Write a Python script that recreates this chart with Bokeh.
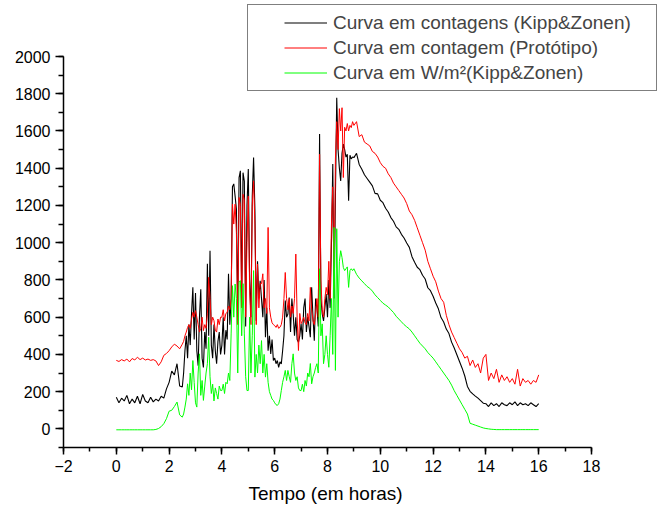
import numpy as np
from bokeh.plotting import figure
from bokeh.models import Legend, LegendItem, SingleIntervalTicker, Range1d, Title
from bokeh.embed import file_html
from bokeh.resources import INLINE

# time axis (hours): 0.1 h steps, 0.05 h in the busy midday part
hours = np.round(np.concatenate([
    np.arange(25) * 0.1,            # 0.0 .. 2.4
    2.5 + np.arange(130) * 0.05,    # 2.5 .. 8.95
    9.0 + np.arange(71) * 0.1,      # 9.0 .. 16.0
]), 3)

kipp_counts = [
    170, 140, 165, 150, 180, 135, 160, 140, 175, 135, 185, 150, 140, 170, 145,
    160, 150, 175, 165, 215, 250, 310, 290, 350, 230,
    # 2.5 - 8.95
    225, 300, 420, 500, 380, 560, 450, 620, 760, 480,
    730, 420, 340, 600, 750, 380, 330, 520, 430, 887,
    500, 957, 450, 380, 560, 420, 350, 470, 520, 400,
    450, 600, 400, 530, 480, 833, 560, 700, 1300, 1316,
    1250, 1180, 600, 1350, 1386, 700, 1376, 1330, 550, 1200,
    1396, 800, 600, 1250, 1457, 1180, 581, 900, 700, 796,
    700, 600, 800, 492, 650, 420, 500, 403, 480, 367,
    380, 350, 367, 330, 360, 349, 420, 500, 689, 600,
    617, 706, 520, 700, 617, 500, 600, 480, 465, 500,
    564, 480, 650, 700, 520, 600, 550, 492, 760, 600,
    474, 700, 650, 550, 1584, 700, 617, 580, 650, 724,
    600, 800, 650, 1000, 1423, 700, 1250, 1778, 1500, 1400,
    1332, 1480, 1530, 1500, 1460, 1475, 1225, 1470, 1450, 1460,
    # 9.0 - 16.0
    1457, 1480, 1420, 1395, 1365, 1345, 1325, 1305, 1265, 1262,
    1228, 1215, 1185, 1165, 1135, 1115, 1085, 1072, 1045, 1025,
    998, 975, 925, 895, 868, 855, 825, 805, 758, 742,
    712, 676, 645, 598, 574, 536, 512, 466, 434, 398,
    362, 326, 284, 228, 202, 188, 176, 165, 152, 138,
    135, 120, 140, 125, 135, 120, 140, 130, 125, 140,
    130, 145, 125, 140, 130, 135, 125, 140, 130, 120,
    135,
]

prototipo_counts = [
    368, 362, 372, 365, 375, 360, 378, 370, 385, 372, 380, 370, 375, 368, 372,
    365, 340, 360, 395, 405, 420, 440, 455, 445, 430,
    # 2.5 - 8.95
    455, 470, 500, 520, 545, 560, 540, 590, 626, 600,
    635, 600, 560, 520, 540, 600, 528, 560, 540, 620,
    814, 700, 560, 600, 581, 530, 520, 590, 560, 600,
    600, 640, 580, 620, 626, 660, 640, 700, 1207, 1100,
    1207, 1050, 560, 1243, 1200, 650, 1260, 1230, 600, 1000,
    1250, 750, 560, 1200, 1332, 1100, 560, 885, 650, 780,
    780, 833, 650, 700, 620, 1082, 650, 600, 570, 560,
    555, 545, 560, 540, 546, 560, 600, 700, 840, 700,
    640, 700, 600, 660, 620, 700, 939, 600, 421, 620,
    565, 580, 600, 570, 560, 620, 580, 760, 640, 580,
    560, 620, 700, 600, 1475, 800, 640, 600, 700, 760,
    720, 900, 700, 1100, 1300, 750, 1450, 1650, 1500, 1720,
    1600, 1725, 1350, 1620, 1600, 1640, 1600, 1630, 1618, 1650,
    # 9.0 - 16.0
    1630, 1650, 1570, 1580, 1540, 1530, 1520, 1490, 1480, 1460,
    1430, 1410, 1400, 1370, 1350, 1320, 1300, 1280, 1260, 1240,
    1210, 1170, 1150, 1120, 1080, 1040, 1000, 960, 900, 860,
    820, 790, 740, 700, 680, 610, 560, 520, 490, 460,
    430, 410, 380, 390, 340, 370, 330, 350, 300, 380,
    400, 260, 300, 270, 320, 250, 290, 260, 280, 250,
    270, 240, 320, 230, 270, 250, 260, 240, 260, 250,
    290,
]

kipp_wm2 = [
    -5, -5, -5, -5, -5, -5, -5, -5, -5, -5, -5, -5, -5, -5, -5,
    -3, 2, 12, 28, 55, 95, 100, 120, 144, 75,
    # 2.5 - 8.95
    63, 80, 117, 160, 242, 180, 300, 210, 367, 250,
    140, 117, 300, 403, 180, 260, 153, 230, 300, 350,
    492, 280, 190, 240, 150, 220, 190, 160, 230, 206,
    206, 240, 190, 250, 242, 300, 260, 510, 769, 600,
    778, 700, 300, 790, 796, 500, 780, 510, 280, 206,
    206, 600, 300, 500, 850, 278, 400, 300, 450, 350,
    474, 300, 400, 278, 350, 250, 200, 180, 160, 153,
    140, 130, 126, 135, 160, 206, 250, 280, 314, 260,
    314, 280, 250, 350, 403, 300, 260, 280, 220, 206,
    206, 240, 200, 260, 230, 300, 280, 351, 242, 280,
    300, 330, 350, 300, 860, 500, 564, 350, 400, 500,
    400, 331, 500, 700, 400, 1082, 314, 1075, 600, 900,
    957, 920, 867, 850, 860, 870, 760, 850, 860, 850,
    # 9.0 - 16.0
    860, 830, 810, 795, 780, 765, 755, 740, 720, 705,
    690, 675, 665, 655, 640, 625, 605, 590, 575, 560,
    548, 537, 520, 500, 480, 460, 445, 430, 410, 395,
    380, 360, 340, 320, 300, 280, 260, 235, 205, 180,
    155, 130, 105, 80, 30, 25, 20, 15, 10, 5,
    2, 0, -2, -3, -4, -4, -4, -4, -4, -4,
    -4, -4, -4, -4, -4, -4, -4, -4, -4, -4,
    -4,
]

labels = ["Curva em contagens (Kipp&Zonen)",
          "Curva em contagem (Protótipo)",
          "Curva em W/m²(Kipp&Zonen)"]
x_title = "Tempo (em horas)"
colors = ["#000000", "#FF0000", "#00FF00"]
FONT = "Liberation Sans"

# frame runs to the top/right edges; axes are bounded to the drawn span
p = figure(width=657, height=507, output_backend="svg", toolbar_location=None,
           x_range=Range1d(-2, 20.5), y_range=Range1d(-100, 2300.8),
           min_border_left=63, min_border_right=0,
           min_border_top=0, min_border_bottom=60)
p.frame_width = 594
p.frame_height = 447
p.outline_line_color = None
p.grid.visible = False
p.background_fill_color = "white"
p.border_fill_color = "white"

p.xaxis.ticker = SingleIntervalTicker(interval=2, num_minor_ticks=2)
p.yaxis.ticker = SingleIntervalTicker(interval=200, num_minor_ticks=2)
p.xaxis.bounds = (-2, 18)
p.yaxis.bounds = (-100, 2000)
for ax in (p.xaxis, p.yaxis):
    ax.axis_line_width = 1.5
    ax.axis_line_color = "black"
    ax.major_tick_line_width = 1.5
    ax.minor_tick_line_width = 1.5
    ax.major_tick_line_color = "black"
    ax.minor_tick_line_color = "black"
    ax.major_tick_in = 0
    ax.minor_tick_in = 0
    ax.major_label_text_font = FONT
    ax.major_label_text_font_size = "16px"
    ax.major_label_text_color = "black"
p.yaxis.major_tick_out = 8
p.yaxis.minor_tick_out = 5
p.yaxis.major_label_standoff = 5
p.xaxis.major_tick_out = 7
p.xaxis.minor_tick_out = 4
p.xaxis.major_label_standoff = 5

# axis title centred under the bounded axis (-2..18), not the whole frame
t = Title(text=x_title, align="left", offset=179,
          text_font=FONT, text_font_size="19px", text_font_style="normal",
          text_color="black", standoff=0, padding=6)
p.add_layout(t, "below")

r1 = p.line(hours, kipp_counts, line_color=colors[0], line_width=1.1)
r2 = p.line(hours, prototipo_counts, line_color=colors[1], line_width=1)
r3 = p.line(hours, kipp_wm2, line_color=colors[2], line_width=1)

legend = Legend(items=[LegendItem(label=labels[0], renderers=[r1]),
                       LegendItem(label=labels[1], renderers=[r2]),
                       LegendItem(label=labels[2], renderers=[r3])],
                location=(184, 356),
                border_line_color="black", border_line_width=1,
                background_fill_color="white", background_fill_alpha=1,
                label_text_font=FONT, label_text_font_size="19px",
                glyph_width=43, glyph_height=25, label_height=25,
                label_standoff=6, spacing=0, margin=0)
try:
    legend.padding = (36, 25, 5, 5)
except Exception:
    legend.padding = 5
p.add_layout(legend)

open("out.html", "w").write(file_html(p, INLINE))
